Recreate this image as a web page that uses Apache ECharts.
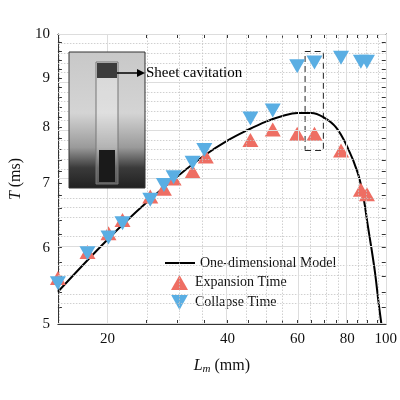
<!DOCTYPE html>
<html><head><meta charset="utf-8">
<script src="https://cdn.jsdelivr.net/npm/echarts@6/dist/echarts.min.js"></script>
<style>html,body{margin:0;padding:0;background:#fff}#c{width:400px;height:400px}</style>
</head><body><div id="c"></div>
<script>
const xTickLabels = [20, 40, 60, 80, 100];
const yTickLabels = [5, 6, 7, 8, 9, 10];
const expL = [15.0, 17.8, 20.1, 21.8, 25.6, 27.7, 29.3, 32.7, 35.3, 45.7, 52.0, 59.9, 66.2, 77.2, 86.6, 89.7];
const expT = [5.58, 5.94, 6.21, 6.41, 6.78, 6.91, 7.08, 7.20, 7.46, 7.76, 7.96, 7.88, 7.88, 7.57, 6.89, 6.82];
const colL = [15.0, 17.8, 20.1, 21.8, 25.6, 27.7, 29.3, 32.7, 35.0, 45.7, 52.0, 59.9, 66.2, 77.2, 86.6, 89.7];
const colT = [5.51, 5.92, 6.15, 6.36, 6.73, 6.97, 7.10, 7.35, 7.58, 8.17, 8.33, 9.26, 9.34, 9.45, 9.36, 9.36];
const modelL = [15, 20, 25, 30, 35, 40, 45, 50, 55, 60, 65, 70, 75, 80, 85, 88, 90, 92, 94, 96, 97.5];
const modelT = [5.40, 6.12, 6.68, 7.12, 7.48, 7.75, 7.95, 8.11, 8.22, 8.28, 8.28, 8.19, 8.00, 7.64, 7.18, 6.75, 6.35, 6.0, 5.65, 5.25, 5.0];
const boxL = [62.7, 69.7], boxT = [7.57, 9.59];

const lg = Math.log10;
const xMinor = [], yMinor = [];
for (let v = 15; v < 100; v += 5) if (v % 20) xMinor.push(v);
for (let v = 5.2; v < 10; v += 0.2) { const r = Math.round(v*10)/10; if (Math.abs(r - Math.round(r)) > 0.01) yMinor.push(r); }
const xAllTicks = xMinor.concat(xTickLabels).map(lg);
const yAllTicks = yMinor.concat(yTickLabels).map(lg);
const font = 'Liberation Serif';
const pair = (a, b) => a.map((v, i) => [lg(v), lg(b[i])]);

const gridLines = [];
xMinor.forEach(v => gridLines.push({xAxis: lg(v), lineStyle: {type: [1.5, 1.5], color: '#c4c4c4', width: 0.8}}));
yMinor.forEach(v => gridLines.push({yAxis: lg(v), lineStyle: {type: [1.5, 1.5], color: '#c4c4c4', width: 0.8}}));
xTickLabels.forEach(v => gridLines.push({xAxis: lg(v), lineStyle: {type: 'solid', color: '#ddd', width: 1}}));
yTickLabels.forEach(v => gridLines.push({yAxis: lg(v), lineStyle: {type: 'solid', color: '#ddd', width: 1}}));

const xBase = {type: 'value', min: lg(15), max: 2, splitLine: {show: false},
  axisLine: {lineStyle: {color: '#333', width: 1}},
  axisTick: {inside: true, length: 4, customValues: xAllTicks, lineStyle: {color: '#333'}}};
const yBase = {type: 'value', min: lg(5), max: 1, splitLine: {show: false},
  axisLine: {lineStyle: {color: '#333', width: 1}},
  axisTick: {inside: true, length: 4, customValues: yAllTicks, lineStyle: {color: '#333'}}};

const chart = echarts.init(document.getElementById('c'));
chart.setOption({
  animation: false,
  grid: {left: 47, right: 14, top: 34, bottom: 76},
  xAxis: [
    Object.assign({}, xBase, {position: 'bottom',
      axisLabel: {customValues: xTickLabels.map(lg), formatter: v => String(Math.round(Math.pow(10, v))), fontFamily: font, fontSize: 15, color: '#111', margin: 8},
      name: '{i|L}{s|m} (mm)', nameLocation: 'middle', nameGap: 32,
      nameTextStyle: {fontFamily: font, fontSize: 16, color: '#111', rich: {i: {fontStyle: 'italic', fontFamily: font, fontSize: 16}, s: {fontStyle: 'italic', fontFamily: font, fontSize: 11, verticalAlign: 'bottom', padding: [8, 0, 0, 0]}}}}),
    Object.assign({}, xBase, {position: 'top', axisLabel: {show: false}})
  ],
  yAxis: [
    Object.assign({}, yBase, {position: 'left',
      axisLabel: {customValues: yTickLabels.map(lg), formatter: v => String(Math.round(Math.pow(10, v))), fontFamily: font, fontSize: 15, color: '#111', margin: 8},
      name: '{i|T} (ms)', nameLocation: 'middle', nameGap: 30, nameRotate: 90,
      nameTextStyle: {fontFamily: font, fontSize: 16, color: '#111', rich: {i: {fontStyle: 'italic', fontFamily: font, fontSize: 16}}}}),
    Object.assign({}, yBase, {position: 'right', axisLabel: {show: false}})
  ],
  legend: [
    {data: ['One-dimensional Model'], left: 160, top: 251, itemWidth: 30, itemHeight: 2, icon: 'rect',
      textStyle: {fontFamily: font, fontSize: 14, color: '#111'}, itemGap: 4},
    {data: [{name: 'Expansion Time', icon: 'triangle'}, {name: 'Collapse Time', icon: 'path://M0,0L10,0L5,9Z'}],
      orient: 'vertical', left: 166, top: 270, itemWidth: 17, itemHeight: 15, itemGap: 5,
      textStyle: {fontFamily: font, fontSize: 14, color: '#111', padding: [0, 0, 0, 2]}}
  ],
  series: [
    {type: 'line', name: 'grid', data: [], silent: true, markLine: {silent: true, symbol: 'none', label: {show: false}, data: gridLines, animation: false}, z: 1},
    {type: 'line', name: 'One-dimensional Model', data: pair(modelL, modelT), smooth: 0.4, showSymbol: false, symbol: 'none',
      lineStyle: {color: '#000', width: 2}, itemStyle: {color: '#000'}, z: 3,
      markArea: {silent: true, itemStyle: {color: 'rgba(0,0,0,0)', borderColor: '#222', borderWidth: 1, borderType: [6, 4]},
        data: [[{coord: [lg(boxL[0]), lg(boxT[0])]}, {coord: [lg(boxL[1]), lg(boxT[1])]}]]}},
    {type: 'scatter', name: 'Expansion Time', data: pair(expL, expT), symbol: 'triangle', symbolSize: [16, 14],
      itemStyle: {color: '#EE6E63', opacity: 1}, z: 4},
    {type: 'scatter', name: 'Collapse Time', data: pair(colL, colT), symbol: 'path://M0,0L10,0L5,9Z', symbolSize: [16, 14],
      itemStyle: {color: '#5AAEE3', opacity: 1}, z: 5}
  ],
  graphic: [
    {type: 'rect', shape: {x: 69, y: 52, width: 76, height: 136}, z: 10,
      style: {fill: {type: 'linear', x: 0, y: 0, x2: 0, y2: 1, colorStops: [
        {offset: 0, color: '#c8c8c8'}, {offset: 0.45, color: '#d4d4d4'}, {offset: 0.7, color: '#9a9a9a'}, {offset: 0.85, color: '#3a3a3a'}, {offset: 1, color: '#202020'}]},
        stroke: '#333', lineWidth: 1}},
    {type: 'rect', shape: {x: 96, y: 62, width: 22, height: 122}, z: 11, style: {fill: 'rgba(255,255,255,0.25)', stroke: '#777', lineWidth: 1}},
    {type: 'rect', shape: {x: 97, y: 63, width: 20, height: 15}, z: 12, style: {fill: '#3c3c3c'}},
    {type: 'rect', shape: {x: 99, y: 150, width: 16, height: 32}, z: 12, style: {fill: '#1a1a1a'}},
    {type: 'line', shape: {x1: 117, y1: 73, x2: 140, y2: 73}, z: 12, style: {stroke: '#000', lineWidth: 1.5}},
    {type: 'polygon', shape: {points: [[145, 73], [137, 69], [137, 77]]}, z: 12, style: {fill: '#000'}},
    {type: 'text', x: 146, y: 73, z: 12, style: {text: 'Sheet cavitation', fontFamily: font, fontSize: 15, fill: '#000', textVerticalAlign: 'middle'}}
  ]
});
</script></body></html>
